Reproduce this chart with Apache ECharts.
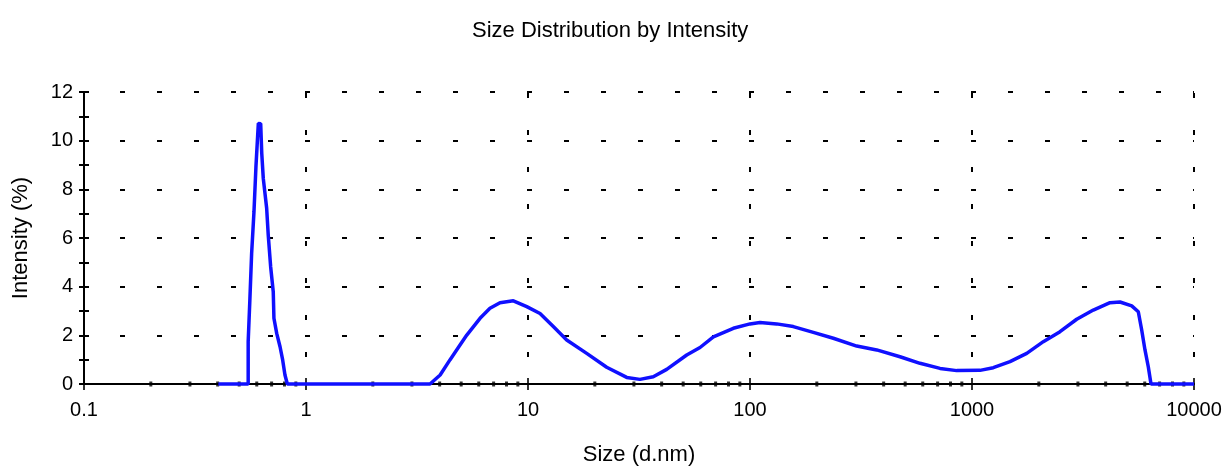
<!DOCTYPE html>
<html>
<head>
<meta charset="utf-8">
<script src="https://cdn.jsdelivr.net/npm/echarts@6/dist/echarts.min.js"></script>
<style>html,body{margin:0;padding:0;background:#fff}#c{width:1227px;height:468px}</style>
</head>
<body>
<div id="c"></div>
<script>
var titleText = 'Size Distribution by Intensity';
var xName = 'Size (d.nm)';
var yName = 'Intensity (%)';
var xTickLabels = ['0.1', '1', '10', '100', '1000', '10000'];
var yTickValues = [0, 2, 4, 6, 8, 10, 12];

var sizes = [0.403, 0.549, 0.549, 0.559, 0.569, 0.583, 0.595, 0.610, 0.625, 0.632, 0.642, 0.665, 0.676, 0.693, 0.712, 0.717, 0.738, 0.764, 0.785, 0.804, 0.824,
  3.62, 4.02, 4.45, 4.94, 5.30, 6.08, 6.74, 7.48, 8.59, 9.87, 11.33, 13.0, 14.94, 18.38, 22.62, 27.84, 31.94, 36.67, 42.15, 51.87, 59.55, 68.4, 84.1, 100, 110.9, 131.9, 156.7, 192.8, 237.3, 302.5, 372.2, 474, 583.2, 717.7, 853.3, 1086, 1247, 1483, 1764, 2095, 2491, 2962, 3519, 4184, 4642, 5242, 5612, 5813, 6015, 6224, 6402, 10000];
var intensity = [0, 0, 1.74, 3.52, 5.37, 7.08, 8.93, 10.71, 10.7, 9.48, 8.45, 7.22, 6.12, 4.82, 3.79, 2.70, 2.08, 1.53, 0.99, 0.37, 0,
  0, 0.37, 0.99, 1.60, 2.01, 2.70, 3.11, 3.34, 3.42, 3.18, 2.90, 2.36, 1.81, 1.26, 0.69, 0.27, 0.19, 0.30, 0.60, 1.19, 1.50, 1.94, 2.29, 2.47, 2.53, 2.47, 2.36, 2.12, 1.88, 1.56, 1.40, 1.12, 0.85, 0.64, 0.55, 0.56, 0.67, 0.92, 1.26, 1.74, 2.15, 2.66, 3.04, 3.34, 3.37, 3.21, 2.97, 2.22, 1.40, 0.71, 0, 0];

var lineData = sizes.map(function (s, i) { return [s, intensity[i]]; });

// x-axis tick marks on the log axis (decades and 2..9 within each decade)
var majorTickData = xTickLabels.map(function (l) { return [parseFloat(l), 0]; });
var minorTickData = [];
xTickLabels.slice(0, -1).forEach(function (l) {
  var d = parseFloat(l);
  for (var k = 2; k <= 9; k++) minorTickData.push([k * d, 0]);
});

var FONT = '"Liberation Sans", Arial, sans-serif';
var chart = echarts.init(document.getElementById('c'), null, {renderer: 'canvas'});
chart.setOption({
  animation: false,
  backgroundColor: '#fff',
  title: {
    text: titleText, left: 467, top: 15,
    textStyle: {fontFamily: FONT, fontSize: 22, fontWeight: 'normal', color: '#000'}
  },
  grid: {left: 84, right: 33, top: 92, bottom: 84, containLabel: false, outerBoundsMode: 'none'},
  xAxis: {
    type: 'log', logBase: 10, min: 0.1, max: 10000,
    name: xName, nameLocation: 'middle', nameGap: 60,
    nameTextStyle: {fontFamily: FONT, fontSize: 22, color: '#000'},
    axisLine: {lineStyle: {color: '#000', width: 2}},
    axisTick: {show: false},
    axisLabel: {
      margin: 16, fontFamily: FONT, fontSize: 20, color: '#000',
      formatter: function (v) {
        for (var i = 0; i < xTickLabels.length; i++) {
          if (Math.abs(Math.log10(v) - Math.log10(parseFloat(xTickLabels[i]))) < 1e-6) return xTickLabels[i];
        }
        return '';
      }
    },
    splitLine: {show: true, lineStyle: {color: '#000', width: 2, type: [5, 32], dashOffset: 36}}
  },
  yAxis: [{
    type: 'value', min: 0, max: 12, interval: 2,
    name: yName, nameLocation: 'middle', nameGap: 52,
    nameTextStyle: {fontFamily: FONT, fontSize: 22, color: '#000'},
    axisLine: {show: true, lineStyle: {color: '#000', width: 2}},
    axisTick: {show: true, length: 5, lineStyle: {color: '#000', width: 2}},
    minorTick: {show: true, splitNumber: 2, length: 5, lineStyle: {color: '#000', width: 2}},
    axisLabel: {margin: 11, fontFamily: FONT, fontSize: 20, color: '#000'},
    splitLine: {show: true, lineStyle: {color: '#000', width: 2, type: [5, 32], dashOffset: 1}}
  }, {
    type: 'value', min: 0, max: 12, interval: 2, position: 'left', offset: 0,
    axisLine: {show: false},
    axisTick: {show: true, inside: true, length: 5, lineStyle: {color: '#000', width: 2}},
    minorTick: {show: true, splitNumber: 2, length: 5, lineStyle: {color: '#000', width: 2}},
    axisLabel: {show: false},
    splitLine: {show: false}
  }],
  series: [{
    name: 'majorTicks', type: 'scatter', silent: true, clip: false, z: 3,
    data: majorTickData, symbol: 'rect', symbolSize: [2, 12],
    itemStyle: {color: '#000'}
  }, {
    name: 'minorTicks', type: 'scatter', silent: true, clip: false, z: 3,
    data: minorTickData, symbol: 'rect', symbolSize: [3, 5],
    itemStyle: {color: '#000'}
  }, {
    name: 'Intensity', type: 'line', data: lineData, showSymbol: false, clip: false, z: 5,
    lineStyle: {color: '#1010ff', width: 3.5},
    itemStyle: {color: '#1010ff'}
  }]
});
</script>
</body>
</html>
